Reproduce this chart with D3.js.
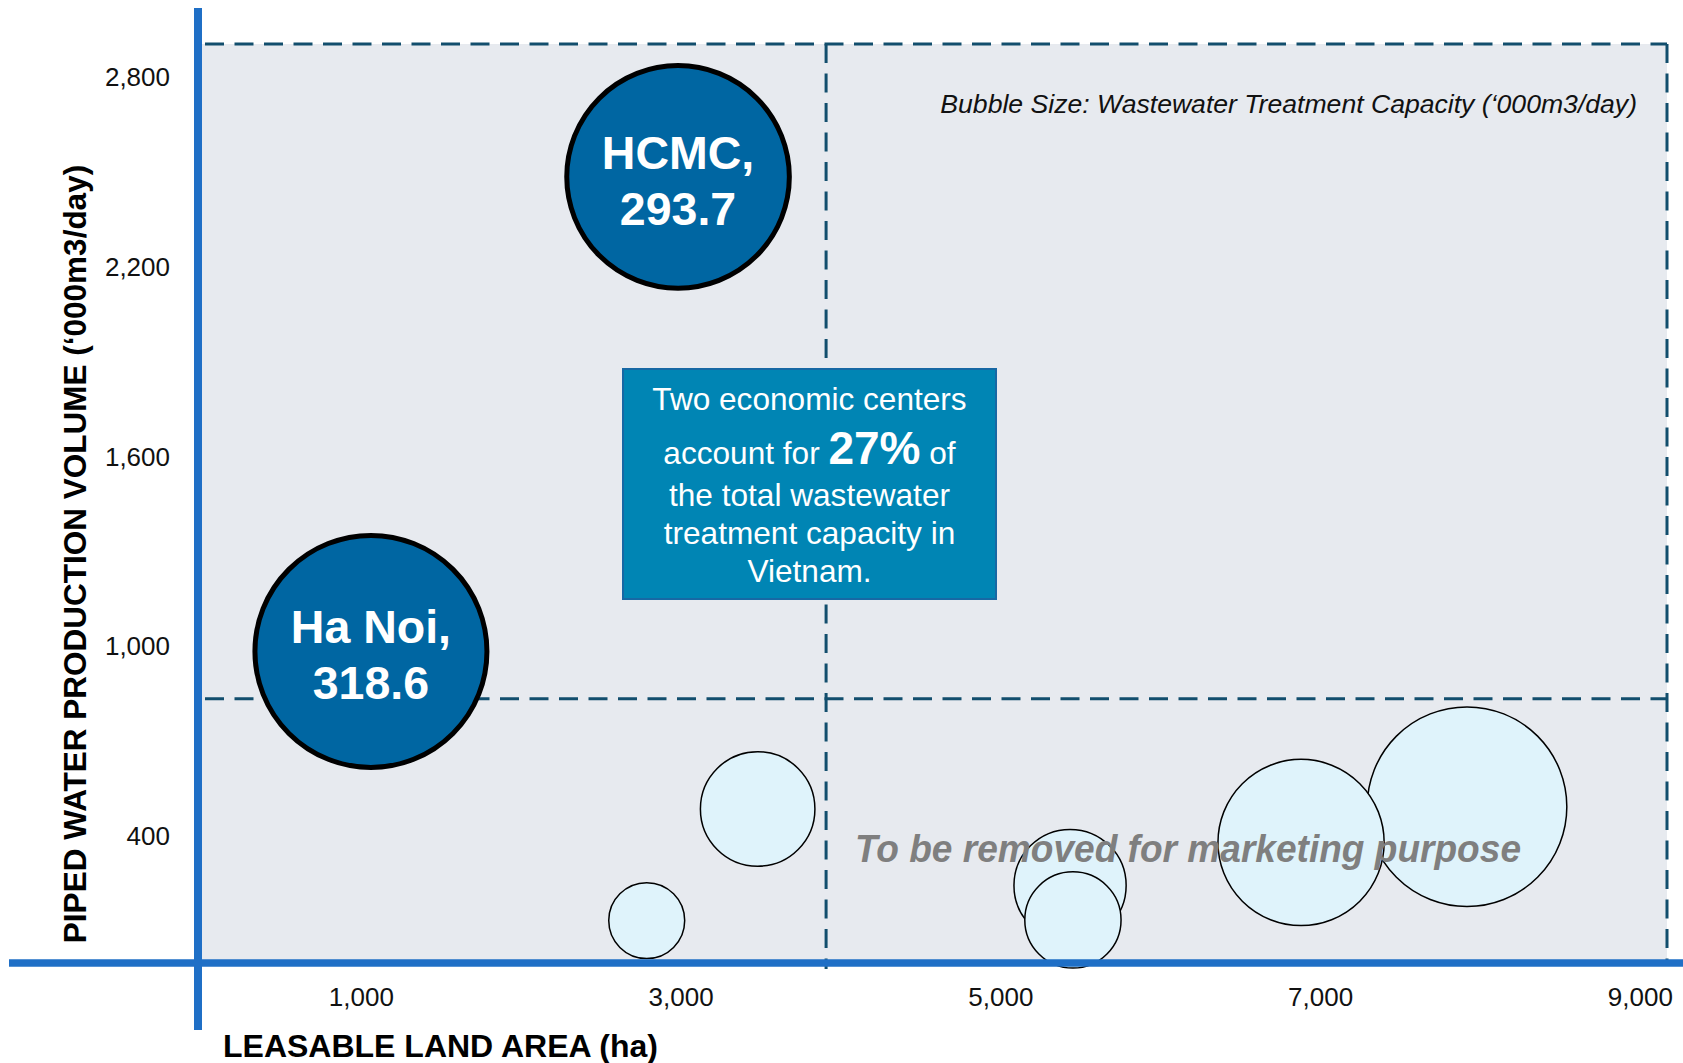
<!DOCTYPE html>
<html>
<head>
<meta charset="utf-8">
<script src="https://cdn.jsdelivr.net/npm/d3@7"></script>
<style>
  body { margin: 0; background: #fff; }
  svg { display: block; font-family: "Liberation Sans", Arial, sans-serif; }
</style>
</head>
<body>
<svg id="chart" width="1683" height="1063"></svg>
<script>
// bubbles: leasable land (ha), piped water ('000m3/day), wastewater capacity ('000m3/day)
var labels = ["Ha Noi", "HCMC", "", "", "", "", "", ""];
var landArea = [1063, 2984, 7919, 6881, 3482, 5436, 5454, 2788];
var waterVolume = [985, 2485, 494, 381, 487, 245, 136, 134];
var capacity = [318.6, 293.7, 228, 158, 75, 72, 53, 33];

var xTicks = [1000, 3000, 5000, 7000, 9000];
var yTicks = [400, 1000, 1600, 2200, 2800];

// quadrant split lines
var xSplit = 3910;
var ySplit = 835;

var bubbleNote = "Bubble Size: Wastewater Treatment Capacity (\u2018000m3/day)";
var watermark = "To be removed for marketing purpose";

var svg = d3.select("#chart");

var x = d3.scaleLinear().domain([0, 9170]).range([201, 1667]);
var y = d3.scaleLinear().domain([0, 2905]).range([963, 44]);
var r = d3.scaleSqrt().domain([0, 318.6]).range([0, 118]);

var points = labels.map(function(d, i) {
  return { name: d, x: landArea[i], y: waterVolume[i], size: capacity[i] };
});

var dashColor = "#124e6d";
var axisBlue = "#1f6fc6";

// plot background
svg.append("rect")
  .attr("x", x(0) - 2)
  .attr("y", y(y.domain()[1]))
  .attr("width", x(x.domain()[1]) - x(0) + 2)
  .attr("height", y(0) - y(y.domain()[1]))
  .attr("fill", "#e7eaef");

// dashed quadrant lines
var dashes = svg.append("g")
  .attr("stroke", dashColor)
  .attr("stroke-width", 3)
  .attr("stroke-dasharray", "19,10.5")
  .attr("fill", "none");

dashes.append("line")
  .attr("x1", x(0) + 4).attr("x2", x(x.domain()[1]))
  .attr("y1", y(y.domain()[1])).attr("y2", y(y.domain()[1]));
dashes.append("line")
  .attr("x1", x(x.domain()[1])).attr("x2", x(x.domain()[1]))
  .attr("y1", y(y.domain()[1])).attr("y2", y(0));
dashes.append("line")
  .attr("x1", x(0) + 4).attr("x2", x(x.domain()[1]))
  .attr("y1", y(ySplit)).attr("y2", y(ySplit));
dashes.append("line")
  .attr("x1", x(xSplit)).attr("x2", x(xSplit))
  .attr("y1", y(y.domain()[1])).attr("y2", y(0) + 6);

// callout box
var box = svg.append("g");
box.append("rect")
  .attr("x", 623).attr("y", 369)
  .attr("width", 373).attr("height", 230)
  .attr("fill", "#0085b4")
  .attr("stroke", "#1768a4")
  .attr("stroke-width", 2);

var boxText = box.append("g")
  .attr("fill", "#fff")
  .attr("text-anchor", "middle")
  .attr("font-size", 31.6);
boxText.append("text").attr("x", 809.5).attr("y", 410).text("Two economic centers");
var l2 = boxText.append("text").attr("x", 809.5).attr("y", 464);
l2.append("tspan").text("account for ");
l2.append("tspan").attr("font-weight", "bold").attr("font-size", 46).text("27%");
l2.append("tspan").text(" of");
boxText.append("text").attr("x", 809.5).attr("y", 505.5).text("the total wastewater");
boxText.append("text").attr("x", 809.5).attr("y", 543.5).text("treatment capacity in");
boxText.append("text").attr("x", 809.5).attr("y", 582).text("Vietnam.");

// bubble size note
svg.append("text")
  .attr("x", 1637).attr("y", 113)
  .attr("text-anchor", "end")
  .attr("font-size", 26.6)
  .attr("font-style", "italic")
  .attr("fill", "#111")
  .text(bubbleNote);

// bubbles
var bubbles = svg.append("g")
  .selectAll("circle")
  .data(points)
  .enter().append("circle")
  .attr("cx", function(d) { return x(d.x); })
  .attr("cy", function(d) { return y(d.y); })
  .attr("r", function(d) { return d.name ? r(d.size) - 2 : r(d.size); })
  .attr("fill", function(d) { return d.name ? "#0066a2" : "#dff3fb"; })
  .attr("stroke", "#000")
  .attr("stroke-width", function(d) { return d.name ? 5 : 1.5; });

// watermark
svg.append("text")
  .attr("x", 855).attr("y", 862)
  .attr("font-size", 39)
  .attr("font-weight", "bold")
  .attr("font-style", "italic")
  .attr("fill", "#7f7f7f")
  .attr("textLength", 666)
  .attr("lengthAdjust", "spacingAndGlyphs")
  .text(watermark);

// axis lines
svg.append("line")
  .attr("x1", 9).attr("x2", 1683)
  .attr("y1", y(0)).attr("y2", y(0))
  .attr("stroke", axisBlue).attr("stroke-width", 7.5);
svg.append("line")
  .attr("x1", 198).attr("x2", 198)
  .attr("y1", 8).attr("y2", 1030)
  .attr("stroke", axisBlue).attr("stroke-width", 8);

// tick labels
var xAxis = svg.append("g")
  .attr("transform", "translate(0," + y(0) + ")")
  .call(d3.axisBottom(x).tickValues(xTicks).tickSize(0).tickPadding(24.5).tickFormat(d3.format(",")));
var yAxis = svg.append("g")
  .attr("transform", "translate(170,0)")
  .call(d3.axisLeft(y).tickValues(yTicks).tickSize(0).tickPadding(0).tickFormat(d3.format(",")));
[xAxis, yAxis].forEach(function(a) {
  a.select(".domain").remove();
  a.selectAll("text")
    .attr("font-family", "Liberation Sans, Arial, sans-serif")
    .attr("font-size", 26)
    .attr("fill", "#111");
});

// axis titles
svg.append("text")
  .attr("x", 223).attr("y", 1057)
  .attr("font-size", 32)
  .attr("font-weight", "bold")
  .attr("fill", "#000")
  .text("LEASABLE LAND AREA (ha)");
svg.append("text")
  .attr("transform", "translate(86,554) rotate(-90)")
  .attr("text-anchor", "middle")
  .attr("font-size", 31.5)
  .attr("font-weight", "bold")
  .attr("fill", "#000")
  .text("PIPED WATER PRODUCTION VOLUME (\u2018000m3/day)");

// labels inside the two big bubbles
var named = points.filter(function(d) { return d.name; });
var lab = svg.append("g")
  .attr("fill", "#fff")
  .attr("font-weight", "bold")
  .attr("font-size", 46.5)
  .attr("text-anchor", "middle")
  .selectAll("g")
  .data(named)
  .enter().append("g");
lab.append("text")
  .attr("x", function(d) { return x(d.x); })
  .attr("y", function(d) { return y(d.y) - 8; })
  .text(function(d) { return d.name + ","; });
lab.append("text")
  .attr("x", function(d) { return x(d.x); })
  .attr("y", function(d) { return y(d.y) + 48; })
  .text(function(d) { return d.size.toFixed(1); });
</script>
</body>
</html>
